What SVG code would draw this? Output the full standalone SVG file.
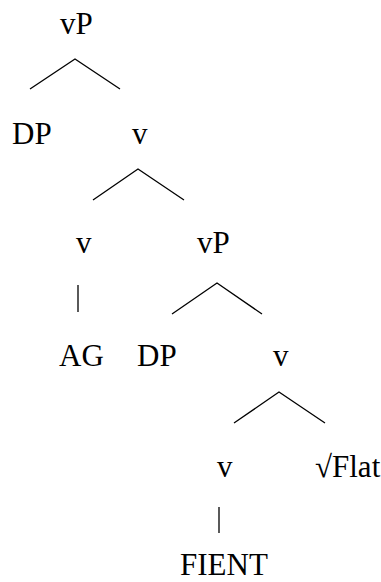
<svg xmlns="http://www.w3.org/2000/svg" width="381" height="582" viewBox="0 0 381 582">
  <style>
    text { font-family: "Liberation Serif", "Times New Roman", serif; font-size: 31px; fill: #000; }
    .edge { stroke: #000; stroke-width: 1.3; fill: none; }
  </style>
  <rect width="381" height="582" fill="#fff"/>
  <g id="connectors">
    <polyline class="edge" points="30,89 75,59 120,89"/>
    <polyline class="edge" points="93,200 138,169 184,200"/>
    <line class="edge" x1="78" y1="285" x2="78" y2="312"/>
    <polyline class="edge" points="172,314 217,283 262,314"/>
    <polyline class="edge" points="234,423 279,392 325,423"/>
    <line class="edge" x1="219" y1="507" x2="219" y2="533"/>
  </g>
  <g id="n-vP-top"><text x="60" y="34">vP</text></g>
  <g id="n-DP-1"><text x="12" y="144">DP</text></g>
  <g id="n-v-1"><text x="132" y="144">v</text></g>
  <g id="n-v-2"><text x="76" y="253">v</text></g>
  <g id="n-vP-2"><text x="197" y="253">vP</text></g>
  <g id="n-AG"><text x="59" y="366">AG</text></g>
  <g id="n-DP-2"><text x="137" y="366">DP</text></g>
  <g id="n-v-3"><text x="273" y="366">v</text></g>
  <g id="n-v-4"><text x="217" y="477">v</text></g>
  <g id="n-root-flat"><text x="315" y="477">√Flat</text></g>
  <g id="n-FIENT"><text x="180" y="575">FIENT</text></g>
</svg>
